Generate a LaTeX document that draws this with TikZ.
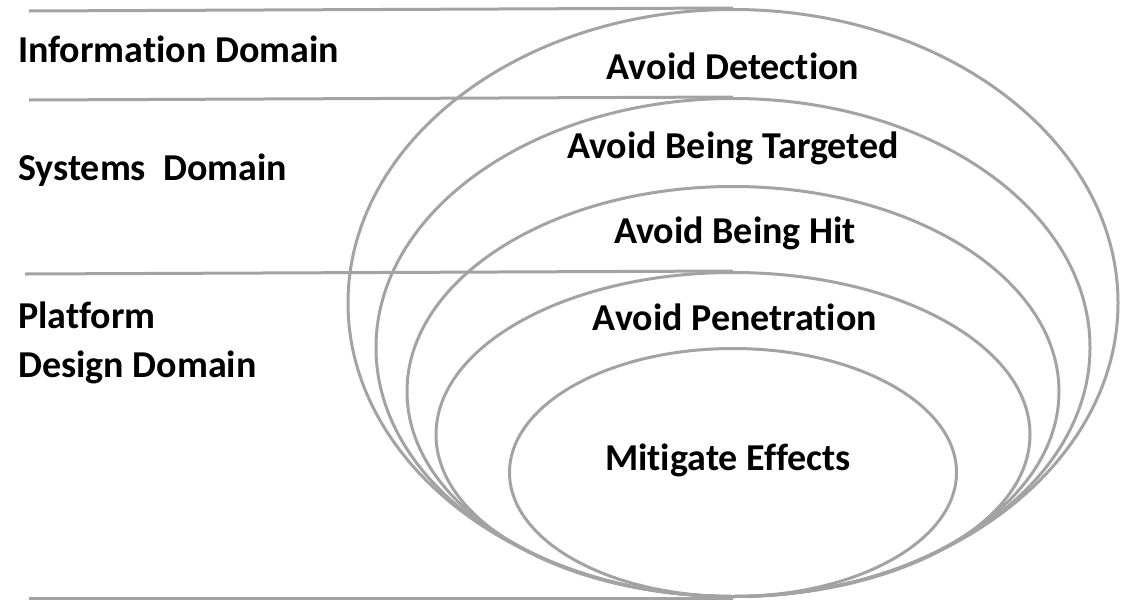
\documentclass[tikz,border=0pt]{standalone}
\usepackage{fontspec}
\setmainfont{Carlito}[Ligatures=NoCommon]
\usetikzlibrary{positioning, shapes.geometric}
\definecolor{ringgray}{gray}{0.64}

\begin{document}
\begin{tikzpicture}[x=1pt, y=-1pt,
    ring/.style = {draw=ringgray, line width=3pt, ellipse, inner sep=0pt, anchor=south},
    rule/.style = {draw=ringgray, line width=3pt},
    lbl/.style  = {font=\fontsize{38}{45}\selectfont\bfseries, inner sep=0pt},
    ]
  \useasboundingbox (0,0) rectangle (1128,603);

  %%% RINGS %%%
  \node[ring, minimum width=770pt, minimum height=587pt] (ring1) at (733,598) {};
  \node[ring, minimum width=714pt, minimum height=498pt] (ring2) at (733,598) {};
  \node[ring, minimum width=652pt, minimum height=410pt] (ring3) at (733,598) {};
  \node[ring, minimum width=594pt, minimum height=324pt] (ring4) at (733,598) {};
  \node[ring, minimum width=447pt, minimum height=248pt] (ring5) at (733,598) {};

  %%% RING LABELS %%%
  \node[lbl] (detect) [below=71pt of ring1.north, anchor=base] {Avoid Detection};
  \node[lbl] (target) [below=61pt of ring2.north, anchor=base] {Avoid Being Targeted};
  \node[lbl] (hit)    [below=58pt of ring3.north, anchor=base, xshift=2pt] {Avoid Being Hit};
  \node[lbl] (pen)    [below=59pt of ring4.north, anchor=base, xshift=2pt] {Avoid Penetration};
  \node[lbl] (mitig)  [below=123pt of ring5.north, anchor=base, xshift=-5pt] {Mitigate Effects};

  %%% DOMAINS %%%
  \coordinate (l1) at (29,11);
  \coordinate (l2) at (29,100);
  \coordinate (l3) at (25,274);
  \coordinate (l4) at (29,598);
  \node[lbl, anchor=base west] (info)     at (18,62)  {Information Domain};
  \node[lbl, anchor=base west] (systems)  at (18,180) {Systems\ \ Domain};
  \node[lbl, anchor=base west] (platform) at (18,328) {Platform};
  \node[lbl] (design) [below=49pt of platform.base west, anchor=base west] {Design Domain};

  % Rules
  \draw[rule] (l1) -- (ring1.north);
  \draw[rule] (l2) -- (ring2.north);
  \draw[rule] (l3) -- (ring4.north);
  \draw[rule] (l4) -- (ring5.south);

\end{tikzpicture}
\end{document}
